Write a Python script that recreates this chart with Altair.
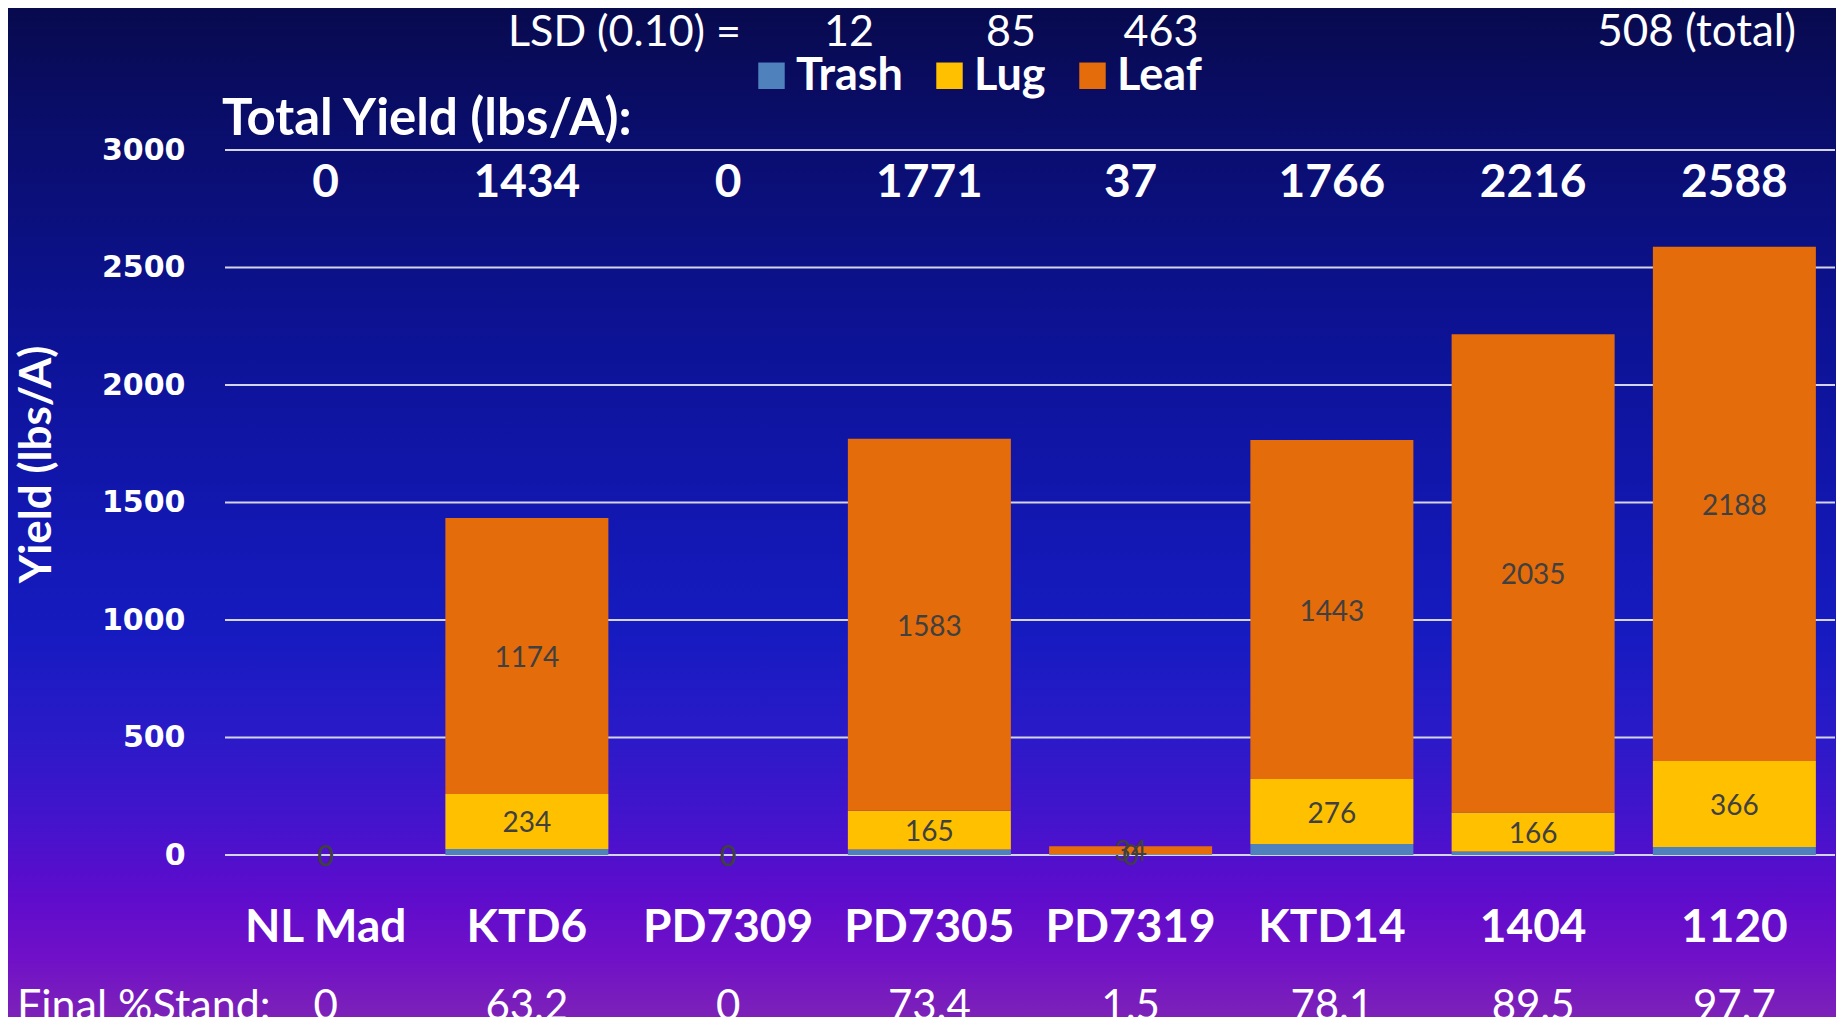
import altair as alt
import pandas as pd

# ---------------- data ----------------
varieties = ["NL Mad", "KTD6", "PD7309", "PD7305", "PD7319", "KTD14", "1404", "1120"]
trash = [0, 26, 0, 23, 3, 47, 15, 34]
lug = [0, 234, 0, 165, 0, 276, 166, 366]
leaf = [0, 1174, 0, 1583, 34, 1443, 2035, 2188]
totals = [0, 1434, 0, 1771, 37, 1766, 2216, 2588]
stand = ["0", "63.2", "0", "73.4", "1.5", "78.1", "89.5", "97.7"]
series_names = ["Trash", "Lug", "Leaf"]
series_colors = ["#4f81bd", "#ffc000", "#e46c0a"]
lsd_values = ["12", "85", "463"]
lsd_total = "508 (total)"
y_ticks = [0, 500, 1000, 1500, 2000, 2500, 3000]

rows = []
for i, v in enumerate(varieties):
    for k, (name, vals) in enumerate(zip(series_names, [trash, lug, leaf])):
        rows.append({"variety": v, "series": name, "value": vals[i], "ord": k})
df = pd.DataFrame(rows)
df_cat = pd.DataFrame({"variety": varieties, "total": totals, "stand": stand})
df_grid = pd.DataFrame({"value": y_ticks})

W, H = 1610, 705
PL, PT, PR, PB = 217, 142, 1, 162

x_scale = alt.Scale(paddingInner=0.19, paddingOuter=0.095)
y_scale = alt.Scale(domain=[0, 3000], nice=False)
y_axis = alt.Axis(
    grid=False, domain=False, ticks=False, values=y_ticks, format="d",
    labelFont="DejaVu Sans", labelFontWeight="bold", labelFontSize=30,
    labelColor="white", labelPadding=40,
    title="Yield (lbs/A)", titleFont="Lato", titleFontSize=44,
    titleFontWeight="bold", titleColor="white", titleX=-188, titleY=314,
    titleAngle=270, titleAlign="center", titleBaseline="middle", zindex=1,
)


def xenc():
    return alt.X("variety:N", sort=varieties, scale=x_scale, axis=None)


# background gradient
bg = alt.Chart(alt.Data(values=[{"a": 1}])).mark_rect(
    fill={
        "gradient": "linear", "x1": 0, "y1": 0, "x2": 0, "y2": 1,
        "stops": [
            {"offset": 0.0, "color": "#080a4e"},
            {"offset": 0.15, "color": "#0a0e72"},
            {"offset": 0.3, "color": "#0c1290"},
            {"offset": 0.5, "color": "#1217b0"},
            {"offset": 0.62, "color": "#161bc0"},
            {"offset": 0.72, "color": "#2a1ac8"},
            {"offset": 0.8, "color": "#4214cc"},
            {"offset": 0.88, "color": "#5e0ccc"},
            {"offset": 0.94, "color": "#7010c8"},
            {"offset": 1.0, "color": "#7c22b8"},
        ],
    }
).encode(
    x=alt.value(-PL), x2=alt.value(W + PR),
    y=alt.value(-PT), y2=alt.value(H + PB),
)

grid = alt.Chart(df_grid).mark_rule(color="#d4d4ec", strokeWidth=2).encode(
    y=alt.Y("value:Q", scale=y_scale, axis=y_axis),
    x=alt.value(0), x2=alt.value(W),
)

bars = alt.Chart(df).mark_bar().encode(
    x=xenc(),
    y=alt.Y("value:Q", stack="zero", scale=y_scale, axis=y_axis),
    color=alt.Color(
        "series:N",
        scale=alt.Scale(domain=series_names, range=series_colors),
        legend=alt.Legend(
            orient="none", legendX=524, legendY=-97, direction="horizontal",
            title=None, symbolType="square", symbolSize=700,
            symbolStrokeWidth=0, symbolOpacity=1,
            labelFont="Lato", labelFontSize=45, labelFontWeight="bold",
            labelColor="white", labelOffset=2, columnPadding=24, padding=0,
        ),
    ),
    order=alt.Order("ord:Q"),
)

seg_labels = alt.Chart(df).transform_stack(
    stack="value", as_=["y0", "y1"], groupby=["variety"],
    sort=[alt.SortField("ord")],
).transform_filter(
    "datum.series != 'Trash'"
).transform_calculate(
    ypos="(datum.y0 + datum.y1) / 2"
).mark_text(
    font="Lato", fontSize=28, color="#404040", baseline="middle", dy=3
).encode(
    x=xenc(),
    y=alt.Y("ypos:Q", scale=y_scale, axis=y_axis),
    text="value:Q",
)

total_text = alt.Chart(df_cat).mark_text(
    font="Lato", fontSize=46, fontWeight="bold", color="white", baseline="middle"
).encode(x=xenc(), y=alt.value(33), text="total:Q")

cat_text = alt.Chart(df_cat).mark_text(
    font="Lato", fontSize=46, fontWeight="bold", color="white", baseline="middle"
).encode(x=xenc(), y=alt.value(778), text="variety:N")

stand_text = alt.Chart(df_cat).mark_text(
    font="Lato", fontSize=42, color="white", baseline="middle"
).encode(x=xenc(), y=alt.value(857), text="stand:N")


def note(txt, px, py, align, size, weight="normal"):
    return alt.Chart(alt.Data(values=[{"t": txt}])).mark_text(
        align=align, baseline="middle", font="Lato", fontSize=size,
        fontWeight=weight, color="white",
    ).encode(x=alt.value(px), y=alt.value(py), text="t:N")


notes = [
    note("LSD (0.10) =", 516, -117, "right", 43),
    note(lsd_values[0], 624, -117, "center", 43),
    note(lsd_values[1], 786, -117, "center", 43),
    note(lsd_values[2], 936, -117, "center", 43),
    note(lsd_total, 1571, -117, "right", 44),
    note("Total Yield (lbs/A):", -3, -30, "left", 51, "bold"),
    note("Final %Stand:", -208, 857, "left", 43),
]

chart = alt.layer(
    bg, grid, bars, seg_labels, total_text, cat_text, stand_text, *notes
).properties(
    width=W, height=H,
    autosize=alt.AutoSizeParams(type="none"),
    padding={"left": PL, "top": PT, "right": PR, "bottom": PB},
).configure_view(stroke=None).configure(background="#1217b0")

chart.save("out.html", embed_options={"renderer": "svg", "actions": False})
